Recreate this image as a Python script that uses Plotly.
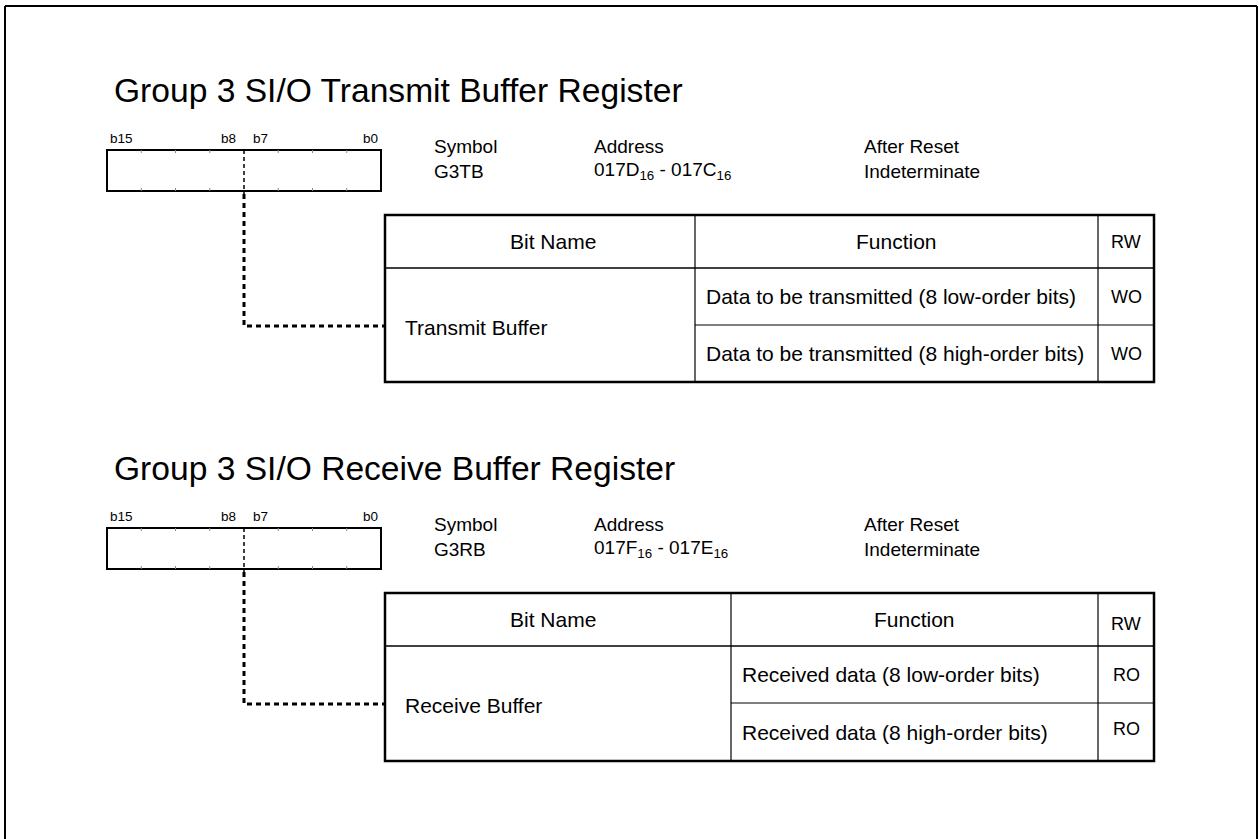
import plotly.graph_objects as go

# ---- content (texts) ----
titles = ["Group 3 SI/O Transmit Buffer Register", "Group 3 SI/O Receive Buffer Register"]
bit_labels = ["b15", "b8", "b7", "b0"]
header_labels = ["Symbol", "Address", "After Reset"]
symbols = ["G3TB", "G3RB"]
addresses = ["017D<sub>16</sub> - 017C<sub>16</sub>", "017F<sub>16</sub> - 017E<sub>16</sub>"]
after_reset = ["Indeterminate", "Indeterminate"]
col_headers = ["Bit Name", "Function", "RW"]
bit_names = ["Transmit Buffer", "Receive Buffer"]
functions = [
    ["Data to be transmitted (8 low-order bits)", "Data to be transmitted (8 high-order bits)"],
    ["Received data (8 low-order bits)", "Received data (8 high-order bits)"],
]
rw_values = [["WO", "WO"], ["RO", "RO"]]

# ---- layout geometry (page pixels) ----
W, H = 1259, 839
FONT = "Liberation Sans, Arial, Helvetica, sans-serif"
offsets = [0, 378]
func_div = [695, 731]
rw_div = 1098
tbl_left, tbl_right = 385, 1154
box_l, box_r = 107, 381
mid_x = 244

fig = go.Figure()
shapes = []
ann = []

def line(x0, y0, x1, y1, w=1.5, dash="solid", color="#000"):
    shapes.append(dict(type="line", xref="x", yref="y", x0=x0, y0=y0, x1=x1, y1=y1,
                       line=dict(color=color, width=w, dash=dash)))

def text(x, y, s, size, anchor="left", color="#000"):
    ann.append(dict(x=x, y=y, xref="x", yref="y", text=s, showarrow=False,
                    xanchor=anchor, yanchor="middle",
                    font=dict(family=FONT, size=size, color=color)))

# outer frame (bottom edge is outside the visible page)
line(5, 6, 1257, 6, w=2)
line(5, 6, 5, H + 5, w=2)
line(1257, 6, 1257, H + 5, w=2)

for i, dy in enumerate(offsets):
    # title
    text(112, 90 + dy, titles[i], 33.6)
    # bit labels
    text(108, 138 + dy, bit_labels[0], 13.5)
    text(238, 138 + dy, bit_labels[1], 13.5, anchor="right")
    text(251, 138 + dy, bit_labels[2], 13.5)
    text(380, 138 + dy, bit_labels[3], 13.5, anchor="right")
    # register box
    bt, bb = 150 + dy, 191 + dy
    shapes.append(dict(type="rect", xref="x", yref="y", x0=box_l, y0=bt, x1=box_r, y1=bb,
                       line=dict(color="#000", width=2)))
    step = (box_r - box_l) / 8
    for k in range(1, 8):
        if k == 4:
            continue
        xx = box_l + step * k
        line(xx, bt, xx, bt + 3, w=1, color="#888")
        line(xx, bb - 3, xx, bb, w=1, color="#888")
    line(mid_x, bt, mid_x, bb + 3, w=1.5, dash="4px,3px")
    # connector
    cy = 326 + dy if i == 0 else 704
    shapes.append(dict(type="path", xref="x", yref="y",
                       path=f"M {mid_x},{bb + 3} L {mid_x},{cy} L {tbl_left},{cy}",
                       line=dict(color="#000", width=3, dash="5px,4px")))
    # symbol/address/reset
    text(432, 146 + dy, header_labels[0], 19)
    text(592, 146 + dy, header_labels[1], 19)
    text(862, 146 + dy, header_labels[2], 19)
    text(432, 171 + dy, symbols[i], 19)
    text(592, 171 + dy, addresses[i], 19)
    text(862, 171 + dy, after_reset[i], 19)
    # table
    t0, t1 = 215 + dy, 268 + dy
    r1 = 325 + dy if i == 0 else 703
    t3 = 382 + dy if i == 0 else 761
    fd = func_div[i]
    line(tbl_left, t1, tbl_right, t1, w=1.5)
    line(fd, r1, tbl_right, r1, w=1.2)
    line(fd, t0, fd, t3, w=1.2)
    line(rw_div, t0, rw_div, t3, w=1.2)
    shapes.append(dict(type="rect", xref="x", yref="y", x0=tbl_left, y0=t0, x1=tbl_right, y1=t3,
                       line=dict(color="#000", width=2.5)))
    hc = (t0 + t1) / 2
    text(553, hc, col_headers[0], 21, anchor="center")
    text((fd + rw_div) / 2, hc, col_headers[1], 21, anchor="center")
    text((rw_div + tbl_right) / 2, hc + (0 if i == 0 else 4), col_headers[2], 18, anchor="center")
    text(403, (t1 + t3) / 2 + 2, bit_names[i], 21)
    rows = [(t1 + r1) / 2, (r1 + t3) / 2]
    for j in range(2):
        text(fd + 9, rows[j], functions[i][j], 21)
        text((rw_div + tbl_right) / 2, rows[j] - (0 if i == 0 else 3 * j), rw_values[i][j], 18, anchor="center")

fig.update_layout(
    width=W, height=H,
    margin=dict(l=0, r=0, t=0, b=0),
    paper_bgcolor="white", plot_bgcolor="white",
    xaxis=dict(range=[0, W], visible=False, fixedrange=True),
    yaxis=dict(range=[H, 0], visible=False, fixedrange=True),
    shapes=shapes, annotations=ann, showlegend=False,
)
fig.write_html(
    "out.html",
    config={"displayModeBar": False},
    post_script="document.body.style.margin='0';document.body.style.overflow='hidden';",
)
